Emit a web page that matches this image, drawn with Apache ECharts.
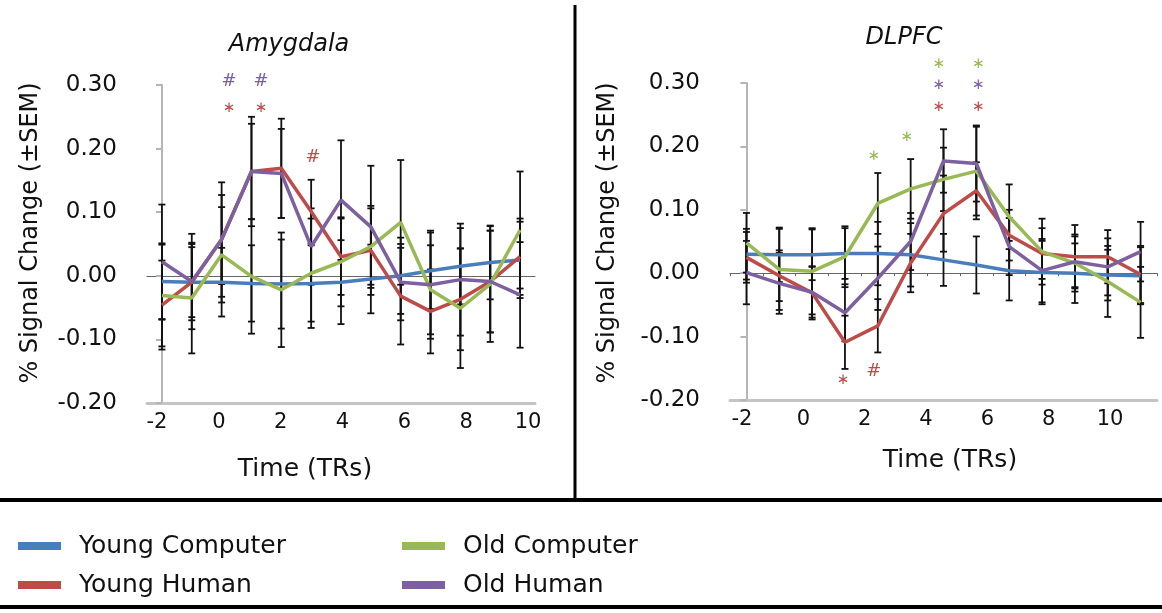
<!DOCTYPE html>
<html>
<head>
<meta charset="utf-8">
<script src="https://cdn.jsdelivr.net/npm/echarts@6/dist/echarts.min.js"></script>
<style>
html, body { margin: 0; padding: 0; background: #fff; }
#main { width: 1162px; height: 613px; }
</style>
</head>
<body>
<div id="main"></div>
<script>
var times = ['-2', '-1', '0', '1', '2', '3', '4', '5', '6', '7', '8', '9', '10'];
var timeTicks = [-2, 0, 2, 4, 6, 8, 10];
var yTicks = [-0.2, -0.1, 0, 0.1, 0.2, 0.3];

// Amygdala means
var amyYoungComputer = [-0.009, -0.01, -0.01, -0.012, -0.013, -0.012, -0.01, -0.005, 0.0, 0.008, 0.015, 0.021, 0.025];
var amyYoungHuman = [-0.046, -0.01, 0.057, 0.164, 0.169, 0.101, 0.03, 0.04, -0.032, -0.056, -0.037, -0.009, 0.03];
var amyOldComputer = [-0.031, -0.035, 0.033, -0.001, -0.022, 0.004, 0.022, 0.046, 0.084, -0.022, -0.051, -0.013, 0.072];
var amyOldHuman = [0.022, -0.009, 0.057, 0.164, 0.161, 0.046, 0.119, 0.077, -0.01, -0.014, -0.006, -0.009, -0.03];
// Amygdala SEM
var amyYoungComputerSem = [0.06, 0.055, 0.054, 0.06, 0.07, 0.06, 0.066, 0.054, 0.06, 0.06, 0.06, 0.058, 0.06];
var amyYoungHumanSem = [0.07, 0.06, 0.07, 0.075, 0.078, 0.05, 0.06, 0.07, 0.076, 0.066, 0.08, 0.08, 0.06];
var amyOldComputerSem = [0.08, 0.087, 0.075, 0.09, 0.09, 0.086, 0.07, 0.06, 0.098, 0.07, 0.094, 0.091, 0.092];
var amyOldHumanSem = [0.09, 0.075, 0.09, 0.086, 0.07, 0.06, 0.094, 0.096, 0.06, 0.085, 0.088, 0.08, 0.083];

// DLPFC means
var dlYoungComputer = [0.03, 0.029, 0.029, 0.031, 0.031, 0.029, 0.021, 0.013, 0.004, 0.001, 0.0, -0.003, -0.004];
var dlYoungHuman = [0.025, -0.004, -0.031, -0.109, -0.083, 0.016, 0.094, 0.13, 0.06, 0.031, 0.026, 0.026, -0.002];
var dlOldComputer = [0.048, 0.006, 0.003, 0.026, 0.11, 0.133, 0.148, 0.161, 0.089, 0.034, 0.016, -0.013, -0.046];
var dlOldHuman = [0.001, -0.016, -0.03, -0.0625, -0.008, 0.05, 0.177, 0.173, 0.042, 0.004, 0.018, 0.01, 0.034];
// DLPFC SEM
var dlYoungComputerSem = [0.04, 0.043, 0.04, 0.04, 0.05, 0.05, 0.041, 0.045, 0.047, 0.05, 0.047, 0.04, 0.045];
var dlYoungHumanSem = [0.04, 0.04, 0.042, 0.042, 0.042, 0.046, 0.06, 0.045, 0.04, 0.04, 0.05, 0.042, 0.045];
var dlOldComputerSem = [0.047, 0.064, 0.068, 0.048, 0.048, 0.047, 0.05, 0.07, 0.051, 0.052, 0.045, 0.056, 0.056];
var dlOldHumanSem = [0.05, 0.048, 0.04, 0.045, 0.05, 0.045, 0.05, 0.06, 0.045, 0.05, 0.04, 0.045, 0.047];

// significance marks: [point position, value, text, group]
var amyMarks = [
    [2.25, 0.305, '#', 'oh'], [3.32, 0.305, '#', 'oh'],
    [2.25, 0.264, '∗', 'yh'], [3.32, 0.264, '∗', 'yh'],
    [5.06, 0.187, '#', 'yh']
];
var dlMarks = [
    [2.94, -0.168, '∗', 'yh'], [3.88, -0.155, '#', 'yh'],
    [3.88, 0.184, '∗', 'oc'], [4.88, 0.214, '∗', 'oc'],
    [5.86, 0.33, '∗', 'oc'], [7.06, 0.33, '∗', 'oc'],
    [5.86, 0.296, '∗', 'oh'], [7.06, 0.296, '∗', 'oh'],
    [5.86, 0.262, '∗', 'yh'], [7.06, 0.262, '∗', 'yh']
];

var names = ['Young Computer', 'Young Human', 'Old Computer', 'Old Human'];
var colors = { yc: '#4a7ebb', yh: '#be4b48', oc: '#98b954', oh: '#7d60a0' };
var keys = ['yc', 'yh', 'oc', 'oh'];
var FONT = '"DejaVu Sans"';

var panels = [
    { means: [amyYoungComputer, amyYoungHuman, amyOldComputer, amyOldHuman],
      sems: [amyYoungComputerSem, amyYoungHumanSem, amyOldComputerSem, amyOldHumanSem],
      marks: amyMarks, labelMin: -2.323, labelMax: 10.226 },
    { means: [dlYoungComputer, dlYoungHuman, dlOldComputer, dlOldHuman],
      sems: [dlYoungComputerSem, dlYoungHumanSem, dlOldComputerSem, dlOldHumanSem],
      marks: dlMarks, labelMin: -2.391, labelMax: 11.53 }
];

var chart = echarts.init(document.getElementById('main'));

function renderErr(params, api) {
    var top = api.coord([api.value(0), api.value(2)]);
    var bot = api.coord([api.value(0), api.value(1)]);
    var hw = 3.5;
    var st = { stroke: '#111', lineWidth: 1.8 };
    return {
        type: 'group',
        children: [
            { type: 'line', shape: { x1: top[0], y1: top[1], x2: bot[0], y2: bot[1] }, style: st },
            { type: 'line', shape: { x1: top[0] - hw, y1: top[1], x2: top[0] + hw, y2: top[1] }, style: st },
            { type: 'line', shape: { x1: bot[0] - hw, y1: bot[1], x2: bot[0] + hw, y2: bot[1] }, style: st }
        ]
    };
}

var markSeriesIdx = [];
function renderMark(params, api) {
    var p = api.coord([api.value(0), api.value(1)]);
    var m = panels[params.seriesIndex === markSeriesIdx[0] ? 0 : 1].marks[params.dataIndex];
    var isHash = m[2] === '#';
    return {
        type: 'text',
        x: p[0], y: p[1],
        style: {
            text: m[2],
            fill: colors[m[3]],
            font: isHash ? '18px ' + FONT : '15px ' + FONT,
            textAlign: 'center',
            textVerticalAlign: 'middle'
        }
    };
}

var grids = [
    { left: 147, right: 627, top: 85, bottom: 210 },
    { left: 730, right: 5, top: 83, bottom: 213 }
];

var xAxes = [], yAxes = [], series = [];

panels.forEach(function (pn, g) {
    // category axis carrying the data, bottom axis line
    xAxes.push({
        type: 'category', gridIndex: g, position: 'bottom', data: times, boundaryGap: true,
        axisLine: { onZero: false, lineStyle: { color: '#c4c4c4', width: 3 } },
        axisTick: { show: false },
        axisLabel: { show: false }
    });
    // zero line
    xAxes.push({
        type: 'category', gridIndex: g, position: 'bottom', data: times, boundaryGap: true,
        axisLine: { onZero: true, lineStyle: { color: '#666', width: 1 } },
        axisTick: { show: g === 1, length: 3, lineStyle: { color: '#666' } },
        axisLabel: { show: false }
    });
    // hidden position axis for marks
    xAxes.push({ type: 'value', gridIndex: g, position: 'bottom', min: -0.5, max: 12.5, show: false });
    // tick labels, placed as in the original figure
    xAxes.push({
        type: 'value', gridIndex: g, position: 'bottom', min: pn.labelMin, max: pn.labelMax,
        axisLine: { show: false, onZero: false }, axisTick: { show: false }, splitLine: { show: false },
        axisLabel: { customValues: timeTicks, fontFamily: 'DejaVu Sans', fontSize: 21, color: '#111', margin: 9 }
    });

    yAxes.push({
        type: 'value', gridIndex: g, min: yTicks[0], max: yTicks[yTicks.length - 1], interval: 0.1,
        axisLine: { show: true, lineStyle: { color: '#b5b5b5', width: 2 } },
        axisTick: { show: true, length: 6, lineStyle: { color: '#b5b5b5', width: 2 } },
        splitLine: { show: false },
        axisLabel: { fontFamily: 'DejaVu Sans', fontSize: 23, color: '#111', margin: 30,
            formatter: function (v) { return v.toFixed(2); } }
    });

    var errData = [];
    pn.means.forEach(function (arr, s) {
        arr.forEach(function (v, i) {
            errData.push([i, v - pn.sems[s][i], v + pn.sems[s][i]]);
        });
    });
    series.push({
        type: 'custom', xAxisIndex: g * 4, yAxisIndex: g, data: errData,
        renderItem: renderErr, encode: { x: 0, y: [1, 2] }, z: 2, silent: true
    });

    pn.means.forEach(function (arr, s) {
        series.push({
            name: names[s], type: 'line', xAxisIndex: g * 4, yAxisIndex: g,
            data: arr, symbol: 'none', z: 3 + s,
            lineStyle: { color: colors[keys[s]], width: 3.5 },
            itemStyle: { color: colors[keys[s]] }
        });
    });

    markSeriesIdx.push(series.length);
    series.push({
        type: 'custom', xAxisIndex: g * 4 + 2, yAxisIndex: g, clip: false,
        data: pn.marks.map(function (m) { return [m[0], m[1]]; }),
        renderItem: renderMark, encode: { x: 0, y: 1 }, z: 10, silent: true
    });
});

var legendText = { fontFamily: 'DejaVu Sans', fontSize: 25, color: '#111', lineHeight: 30, padding: [0, 0, 0, 13] };

function txt(x, y, s, font, rot) {
    return { type: 'text', x: x, y: y, rotation: rot || 0,
        style: { text: s, font: font, fill: '#111', textAlign: 'center', textVerticalAlign: 'middle' } };
}

chart.setOption({
    animation: false,
    backgroundColor: '#fff',
    grid: grids,
    xAxis: xAxes,
    yAxis: yAxes,
    legend: [
        { data: [names[0], names[1]], orient: 'vertical', left: 13, top: 526, icon: 'rect',
          itemWidth: 43, itemHeight: 8, itemGap: 9, textStyle: legendText, selectedMode: false },
        { data: [names[2], names[3]], orient: 'vertical', left: 397, top: 526, icon: 'rect',
          itemWidth: 43, itemHeight: 8, itemGap: 9, textStyle: legendText, selectedMode: false }
    ],
    graphic: [
        { type: 'line', shape: { x1: 575, y1: 5, x2: 575, y2: 500 }, style: { stroke: '#000', lineWidth: 3 } },
        { type: 'line', shape: { x1: 0, y1: 500, x2: 1162, y2: 500 }, style: { stroke: '#000', lineWidth: 4 } },
        { type: 'line', shape: { x1: 0, y1: 607, x2: 1162, y2: 607 }, style: { stroke: '#000', lineWidth: 4 } },
        txt(289, 45, 'Amygdala', 'italic 24px "DejaVu Sans"'),
        txt(904, 38, 'DLPFC', 'italic 24px "DejaVu Sans"'),
        txt(31, 233, '% Signal Change (±SEM)', '24px "DejaVu Sans"', Math.PI / 2),
        txt(608, 233, '% Signal Change (±SEM)', '24px "DejaVu Sans"', Math.PI / 2),
        txt(305, 469, 'Time (TRs)', '25px "DejaVu Sans"'),
        txt(950, 460, 'Time (TRs)', '25px "DejaVu Sans"')
    ],
    series: series
});
</script>
</body>
</html>
